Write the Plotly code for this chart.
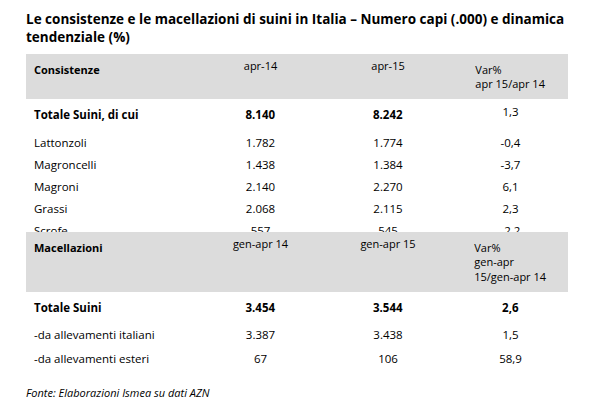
import plotly.graph_objects as go

# Consistenze (migliaia di capi)
cons_labels = ['Totale Suini, di cui', 'Lattonzoli', 'Magroncelli', 'Magroni', 'Grassi', 'Scrofe']
cons_apr14 = [8140, 1782, 1438, 2140, 2068, 557]
cons_apr15 = [8242, 1774, 1384, 2270, 2115, 545]
cons_var = [1.3, -0.4, -3.7, 6.1, 2.3, -2.2]

# Macellazioni
mac_labels = ['Totale Suini', '-da allevamenti italiani', '-da allevamenti esteri']
mac_14 = [3454, 3387, 67]
mac_15 = [3544, 3438, 106]
mac_var = [2.6, 1.5, 58.9]


def fmt_int(v):
    return f'{v:,}'.replace(',', '.')


def fmt_dec(v):
    return f'{v:.1f}'.replace('.', ',')


def bold_first(vals):
    return ['<b>%s</b>' % v if i == 0 else v for i, v in enumerate(vals)]


FONT = 'Open Sans'
widths = [172, 125, 130, 115]
dom_x = [18 / 600, 560 / 600]


def make_table(header, labels, a, b, var, y0, y1, hh, ch, bold_var):
    cols = [bold_first(labels),
            bold_first([fmt_int(v) for v in a]),
            bold_first([fmt_int(v) for v in b]),
            bold_first([fmt_dec(v) for v in var]) if bold_var else [fmt_dec(v) for v in var]]
    return go.Table(
        domain=dict(x=dom_x, y=[1 - y1 / 400, 1 - y0 / 400]),
        columnwidth=widths,
        header=dict(values=header, fill_color='#dcdcdc', height=hh,
                    align=['left', 'center', 'center', 'center'],
                    line=dict(color='#dcdcdc', width=0),
                    font=dict(family=FONT, size=11, color='black')),
        cells=dict(values=cols, fill_color='white', height=ch,
                   align=['left', 'center', 'center', 'center'],
                   line=dict(color='white', width=0),
                   font=dict(family=FONT, size=11.5, color='black')),
    )


fig = go.Figure()
fig.add_trace(make_table(['<b>Consistenze</b>', 'apr-14', 'apr-15', 'Var%<br>apr 15/apr 14'],
                         cons_labels, cons_apr14, cons_apr15, cons_var, 46, 224, 28, 22, False))
fig.add_trace(make_table(['<b>Macellazioni</b>', 'gen-apr 14', 'gen-apr 15', 'Var%<br>gen-apr<br>15/gen-apr 14'],
                         mac_labels, mac_14, mac_15, mac_var, 224, 366, 56, 24, True))

fig.add_annotation(text='<b>Le consistenze e le macellazioni di suini in Italia – Numero capi (.000) e dinamica<br>tendenziale (%)</b>',
                   x=16 / 600, y=1.0, xref='paper', yref='paper', xanchor='left', yanchor='top',
                   align='left', showarrow=False, font=dict(family=FONT, size=13.5, color='black'))
fig.add_annotation(text='<i>Fonte: Elaborazioni Ismea su dati AZN</i>',
                   x=16 / 600, y=1 - 384 / 400, xref='paper', yref='paper', xanchor='left', yanchor='middle',
                   showarrow=False, font=dict(family=FONT, size=11, color='black'))

fig.update_layout(width=600, height=400, margin=dict(l=0, r=0, t=0, b=0),
                  paper_bgcolor='white')
fig.write_html('out.html')
